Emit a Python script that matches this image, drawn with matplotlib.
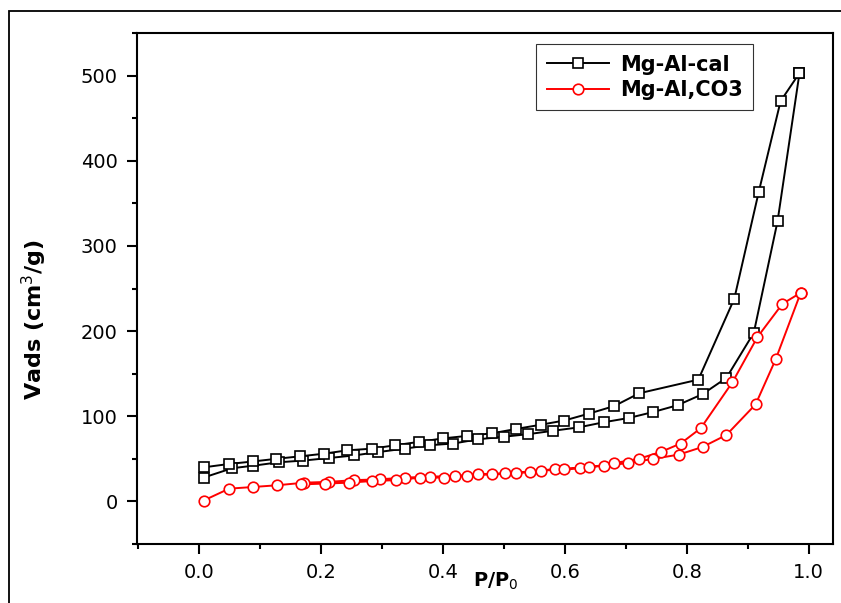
import matplotlib
matplotlib.use('Agg')
import matplotlib.pyplot as plt
from matplotlib.patches import Rectangle
from matplotlib.ticker import MultipleLocator

# Mg-Al-cal: adsorption branch then desorption branch
cal_ads_p = [0.007, 0.054, 0.089, 0.131, 0.171, 0.213, 0.254, 0.294, 0.337, 0.378,
             0.417, 0.458, 0.500, 0.540, 0.581, 0.623, 0.664, 0.705, 0.745, 0.785,
             0.826, 0.865, 0.910, 0.949, 0.985]
cal_ads_v = [28, 39, 42, 46, 48, 51, 54, 58, 62, 66,
             68, 73, 76, 79, 83, 87, 93, 98, 105, 113,
             126, 145, 198, 329, 503]
cal_des_p = [0.985, 0.954, 0.918, 0.878, 0.819, 0.722, 0.681, 0.639, 0.599, 0.560,
             0.519, 0.481, 0.440, 0.400, 0.361, 0.322, 0.284, 0.243, 0.204, 0.166,
             0.126, 0.089, 0.049, 0.007]
cal_des_v = [503, 470, 363, 238, 143, 127, 112, 103, 95, 90,
             85, 80, 77, 74, 70, 66, 62, 60, 56, 53,
             50, 47, 44, 40]

# Mg-Al,CO3
co3_ads_p = [0.007, 0.049, 0.089, 0.128, 0.172, 0.213, 0.254, 0.297, 0.337, 0.378,
             0.419, 0.458, 0.501, 0.542, 0.583, 0.624, 0.664, 0.704, 0.745, 0.787,
             0.826, 0.865, 0.913, 0.946, 0.987]
co3_ads_v = [1, 15, 17, 19, 22, 23, 25, 26, 28, 29,
             30, 32, 33, 35, 38, 39, 42, 45, 50, 55,
             64, 78, 114, 167, 245]
co3_des_p = [0.987, 0.957, 0.916, 0.875, 0.823, 0.790, 0.757, 0.721, 0.681, 0.640,
             0.599, 0.561, 0.520, 0.481, 0.440, 0.402, 0.363, 0.323, 0.284, 0.245,
             0.207, 0.167]
co3_des_v = [245, 232, 193, 140, 86, 68, 58, 50, 45, 40,
             38, 36, 33, 32, 30, 28, 28, 25, 24, 22,
             21, 20]

plt.rcParams['font.family'] = ['DejaVu Sans']

fig = plt.figure(figsize=(8.41, 6.03), dpi=100)
ax = fig.add_axes([0.163, 0.0978, 0.8275, 0.8475])

# outer frame around the figure
fig.patches.append(Rectangle((9 / 841, -0.1), 1.2, 1 - 11 / 603 + 0.1, transform=fig.transFigure,
                             fill=False, edgecolor='black', linewidth=1.3, clip_on=False))

cal_p = cal_ads_p + cal_des_p
cal_v = cal_ads_v + cal_des_v
co3_p = co3_ads_p + co3_des_p
co3_v = co3_ads_v + co3_des_v

ax.plot(cal_p, cal_v, color='black', lw=1.4, marker='s', ms=7, mfc='white',
        mec='black', mew=1.2, label='Mg-Al-cal')
ax.plot(co3_p, co3_v, color='red', lw=1.4, marker='o', ms=7.6, mfc='white',
        mec='red', mew=1.2, label='Mg-Al,CO3')

ax.set_xlim(-0.102, 1.04)
ax.set_ylim(-50, 550)
ax.xaxis.set_major_locator(MultipleLocator(0.2))
ax.xaxis.set_minor_locator(MultipleLocator(0.1))
ax.yaxis.set_major_locator(MultipleLocator(100))
ax.yaxis.set_minor_locator(MultipleLocator(50))
ax.xaxis.set_major_formatter(lambda v, pos: f'{v:.1f}')

ax.tick_params(which='major', direction='out', length=7, width=1.5, labelsize=14, pad=7)
ax.tick_params(which='minor', direction='out', length=3.5, width=1.5)
for s in ax.spines.values():
    s.set_linewidth(1.5)

ax.set_ylabel('Vads (cm$^3$/g)', fontsize=16, fontweight='bold')
ax.yaxis.set_label_coords(-0.126, 0.44)
ax.text(0.516, -0.083, 'P/P$_0$', transform=ax.transAxes, ha='center', va='baseline',
        fontsize=14, fontweight='bold')

leg = ax.legend(loc='upper right', bbox_to_anchor=(0.885, 0.978), borderaxespad=0,
                prop={'size': 15, 'weight': 'bold'}, fancybox=False, frameon=True,
                edgecolor='black', handlelength=3.0, handletextpad=0.5,
                labelspacing=0.25, borderpad=0.5)
leg.get_frame().set_linewidth(0.8)

fig.savefig('out.png', dpi=100)
